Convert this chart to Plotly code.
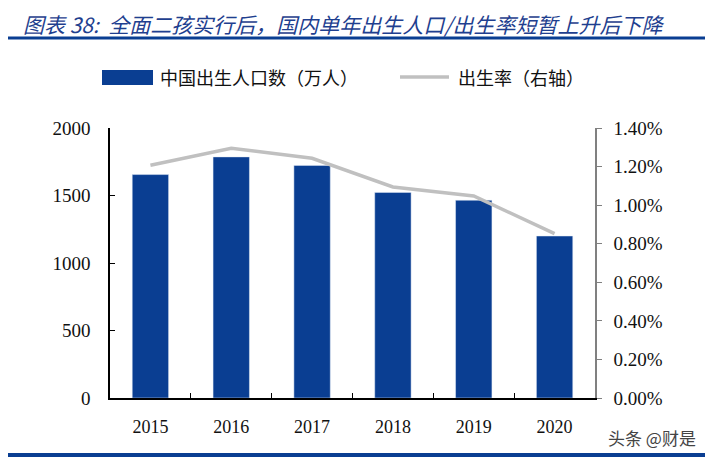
import plotly.graph_objects as go

years = ["2015", "2016", "2017", "2018", "2019", "2020"]
births = [1655, 1786, 1723, 1523, 1465, 1200]
birth_rate = [1.207, 1.295, 1.243, 1.094, 1.048, 0.852]

title_text = "图表 38:  全面二孩实行后，国内单年出生人口/出生率短暂上升后下降"
bar_name = "中国出生人口数（万人）"
line_name = "出生率（右轴）"

BLUE = "#0a3e92"
GRAY = "#c0c0c0"
serif = "Liberation Serif, Times New Roman, serif"
cjk = "Noto Sans CJK SC"

OFF = 8  # page body margin
W, H = 713 - OFF, 459 - OFF
AX_L, AX_R, AX_T, AX_B = 110, 595, 128, 398
L = AX_L - OFF
T = AX_T - OFF
R = W - (AX_R - OFF)
B = H - (AX_B - OFF)
pw, ph = AX_R - AX_L, AX_B - AX_T

def px(x):
    return (x - AX_L) / pw

def py(y):
    return (AX_B - y) / ph

fig = go.Figure()
fig.add_trace(go.Bar(x=years, y=births, name=bar_name, marker_color=BLUE,
                     width=0.45, yaxis="y", showlegend=False))
fig.add_trace(go.Scatter(x=years, y=birth_rate, name=line_name, mode="lines",
                         line=dict(color=GRAY, width=3.5), yaxis="y2", showlegend=False))

fig.update_layout(
    width=W, height=H,
    margin=dict(l=L, r=R, t=T, b=B, autoexpand=False),
    paper_bgcolor="white", plot_bgcolor="white",
    xaxis=dict(type="category", showline=True, linecolor="black", linewidth=1.5,
               ticks="inside", tickson="boundaries", ticklen=5, tickcolor="black",
               ticklabelstandoff=12,
               tickfont=dict(family=serif, size=18, color="#111"),
               showgrid=False, zeroline=False),
    yaxis=dict(range=[0, 2000], tickvals=[0, 500, 1000, 1500, 2000],
               showline=True, linecolor="black", linewidth=1.5,
               ticks="inside", ticklen=5, tickcolor="black",
               ticklabelstandoff=14,
               tickfont=dict(family=serif, size=19, color="#111"),
               showgrid=False, zeroline=False),
    yaxis2=dict(range=[0, 1.4], tickvals=[0, 0.2, 0.4, 0.6, 0.8, 1.0, 1.2, 1.4],
                ticktext=["0.00%", "0.20%", "0.40%", "0.60%", "0.80%", "1.00%", "1.20%", "1.40%"],
                overlaying="y", side="right", showline=True, linecolor="#808080", linewidth=1.5,
                ticks="outside", ticklen=5, tickcolor="#808080",
                ticklabelstandoff=8,
                tickfont=dict(family=serif, size=19, color="#111"),
                showgrid=False, zeroline=False),
    showlegend=False,
)

shapes = [
    dict(type="line", xref="paper", yref="paper", x0=px(8), x1=px(705), y0=py(38), y1=py(38),
         line=dict(color=BLUE, width=3)),
    dict(type="line", xref="paper", yref="paper", x0=px(8), x1=px(707), y0=py(455), y1=py(455),
         line=dict(color=BLUE, width=4)),
    dict(type="rect", xref="paper", yref="paper", x0=px(102), x1=px(153), y0=py(85), y1=py(70),
         fillcolor=BLUE, line=dict(width=0)),
    dict(type="line", xref="paper", yref="paper", x0=px(400), x1=px(449), y0=py(77), y1=py(77),
         line=dict(color=GRAY, width=3.5)),
]

annotations = [
    dict(text=title_text, xref="paper", yref="paper", x=px(22), y=py(OFF),
         xanchor="left", yanchor="top", showarrow=False, borderpad=0,
         font=dict(family=cjk, size=21, color="#1f3f8f", style="italic")),
    dict(text=bar_name, xref="paper", yref="paper", x=px(158), y=py(77),
         xanchor="left", yanchor="middle", showarrow=False,
         font=dict(family=cjk, size=18, color="#111")),
    dict(text=line_name, xref="paper", yref="paper", x=px(456), y=py(77),
         xanchor="left", yanchor="middle", showarrow=False,
         font=dict(family=cjk, size=18, color="#111")),
    dict(text="头条 @财是", xref="paper", yref="paper", x=px(698), y=py(437),
         xanchor="right", yanchor="middle", showarrow=False,
         font=dict(family=cjk, size=17, color="#444")),
]

fig.update_layout(shapes=shapes, annotations=annotations)
fig.write_html("out.html")
